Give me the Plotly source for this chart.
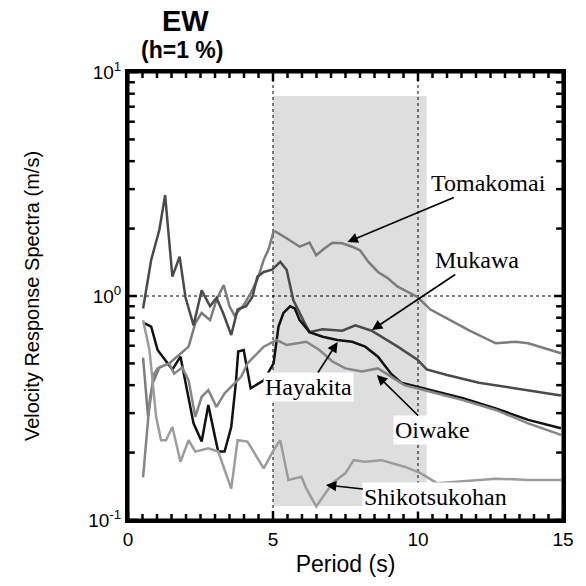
import math
import plotly.graph_objects as go

# ---------------- data ----------------
period_tomakomai = [0.52, 0.69, 0.86, 1.08, 1.42, 1.81, 2.09, 2.32, 2.54, 2.83, 3.05, 3.30, 3.50, 3.67,
                    3.99, 4.23, 4.46, 4.68, 4.85, 5.02, 5.08, 5.47, 5.92, 6.26, 6.49, 6.77, 7.05, 7.39,
                    7.73, 8.00, 8.29, 8.62, 8.96, 9.30, 9.98, 10.43, 11.10, 11.78, 12.68, 13.36, 13.80, 14.93]
vel_tomakomai = [0.53, 0.29, 0.41, 0.48, 0.50, 0.555, 0.594, 0.755, 0.84, 0.78, 0.96, 1.12, 0.90, 0.82,
                 0.91, 1.03, 1.18, 1.45, 1.62, 1.94, 1.94, 1.81, 1.66, 1.73, 1.52, 1.63, 1.73, 1.72,
                 1.66, 1.60, 1.42, 1.28, 1.20, 1.10, 0.99, 0.87, 0.78, 0.70, 0.615, 0.625, 0.615, 0.555]

period_mukawa = [0.52, 0.80, 1.08, 1.28, 1.53, 1.78, 1.98, 2.26, 2.54, 2.83, 3.05, 3.28, 3.56, 3.78,
                 4.07, 4.29, 4.46, 4.68, 4.97, 5.25, 5.47, 5.70, 6.04, 6.26, 6.71, 7.39, 7.84, 8.40,
                 9.30, 9.98, 10.30, 11.00, 12.10, 13.20, 14.93]
vel_mukawa = [0.88, 1.45, 1.97, 2.82, 1.22, 1.50, 0.99, 0.74, 1.06, 0.90, 0.98, 0.84, 0.67, 0.87,
              0.90, 0.99, 1.22, 1.28, 1.31, 1.42, 1.31, 0.96, 0.78, 0.69, 0.71, 0.70, 0.74, 0.70,
              0.594, 0.52, 0.47, 0.444, 0.41, 0.39, 0.36]

period_hayakita = [0.52, 0.80, 1.02, 1.53, 1.81, 2.26, 2.54, 2.77, 3.00, 3.11, 3.33, 3.56, 3.72, 3.80,
                   3.99, 4.23, 4.68, 5.02, 5.19, 5.36, 5.59, 5.75, 5.92, 6.26, 6.71, 7.22, 7.73, 8.18,
                   8.62, 9.07, 9.42, 10.43, 11.55, 12.68, 13.80, 14.93]
vel_hayakita = [0.76, 0.73, 0.574, 0.47, 0.536, 0.27, 0.224, 0.326, 0.235, 0.202, 0.202, 0.26, 0.41, 0.565,
                0.574, 0.387, 0.42, 0.50, 0.73, 0.84, 0.90, 0.88, 0.78, 0.69, 0.658, 0.636, 0.625, 0.594,
                0.536, 0.45, 0.41, 0.38, 0.35, 0.315, 0.28, 0.257]

period_oiwake = [0.52, 0.75, 0.90, 1.02, 1.42, 1.59, 1.87, 2.09, 2.32, 2.54, 2.77, 3.05, 3.33, 3.61,
                 3.90, 4.12, 4.35, 4.68, 5.02, 5.14, 5.47, 6.15, 6.60, 7.05, 7.50, 8.06, 8.62, 9.07,
                 9.53, 10.43, 11.55, 12.68, 13.80, 14.93]
vel_oiwake = [0.155, 0.343, 0.45, 0.475, 0.50, 0.45, 0.48, 0.42, 0.289, 0.355, 0.38, 0.32, 0.368, 0.40,
              0.436, 0.50, 0.536, 0.594, 0.625, 0.636, 0.604, 0.625, 0.574, 0.51, 0.475, 0.46, 0.475, 0.436,
              0.40, 0.374, 0.343, 0.31, 0.27, 0.24]

period_shikotsu = [0.52, 0.74, 0.97, 1.14, 1.31, 1.53, 1.81, 2.09, 2.32, 2.77, 3.11, 3.56, 3.78, 4.12,
                   4.68, 5.02, 5.25, 5.53, 5.98, 6.15, 6.49, 7.05, 7.50, 7.78, 8.18, 8.74, 9.53, 10.09,
                   10.65, 11.55, 12.68, 13.80, 14.93]
vel_shikotsu = [0.78, 0.574, 0.289, 0.227, 0.227, 0.26, 0.182, 0.227, 0.202, 0.209, 0.202, 0.138, 0.227, 0.224,
                0.17, 0.205, 0.227, 0.151, 0.156, 0.138, 0.115, 0.146, 0.162, 0.185, 0.182, 0.185, 0.173, 0.162,
                0.146, 0.149, 0.153, 0.151, 0.151]

x_major = [0, 5, 10, 15]
x_minor_step = 0.5
y_tickvals = [0.1, 1, 10]
y_ticktext = ["10<sup>-1</sup>", "10<sup>0</sup>", "10<sup>1</sup>"]
y_minor = [0.2, 0.3, 0.4, 0.5, 0.6, 0.7, 0.8, 0.9, 2, 3, 4, 5, 6, 7, 8, 9]
band_period = [5.0, 10.3]
ref_periods = [5, 10]
X_RANGE = [0, 15]
Y_LOG_RANGE = [-1, 1]

series = [
    ("Tomakomai", period_tomakomai, vel_tomakomai, "#7c7c7c"),
    ("Mukawa", period_mukawa, vel_mukawa, "#4a4a4a"),
    ("Hayakita", period_hayakita, vel_hayakita, "#111111"),
    ("Oiwake", period_oiwake, vel_oiwake, "#858585"),
    ("Shikotsukohan", period_shikotsu, vel_shikotsu, "#9c9c9c"),
]

# ---------------- layout geometry ----------------
W = H = 586
ML, MR, MT, MB = 128, 14, 72, 66
PW, PH = W - ML - MR, H - MT - MB


def pxx(xp):
    return (xp - ML) / PW


def pxy(yp):
    return (H - MB - yp) / PH


def yfrac(v):
    return (math.log10(v) - Y_LOG_RANGE[0]) / (Y_LOG_RANGE[1] - Y_LOG_RANGE[0])


fig = go.Figure()

fig.add_shape(type="rect", xref="x", yref="paper",
              x0=band_period[0], x1=band_period[1], y0=pxy(506), y1=pxy(96),
              fillcolor="#dedede", line_width=0, layer="below")
for rp in ref_periods:
    fig.add_shape(type="line", xref="x", yref="paper", x0=rp, x1=rp, y0=0, y1=1,
                  line=dict(color="black", width=1, dash="dot"), layer="below")
fig.add_shape(type="line", xref="paper", yref="paper", x0=0, x1=1, y0=yfrac(1), y1=yfrac(1),
              line=dict(color="black", width=1, dash="dot"), layer="below")

for name, xs, ys, col in series:
    fig.add_trace(go.Scatter(x=xs, y=ys, mode="lines", name=name,
                             line=dict(color=col, width=2.5), showlegend=False))

# ---- frame and inside tick marks on all four sides ----
tick_style = dict(color="black", width=2.5)
n_minor = int(round((X_RANGE[1] - X_RANGE[0]) / x_minor_step))
for i in range(n_minor + 1):
    xv = X_RANGE[0] + i * x_minor_step
    ln = 9 if xv in x_major else 6
    h = ln / PH
    fig.add_shape(type="line", xref="x", yref="paper", x0=xv, x1=xv, y0=0, y1=h,
                  line=tick_style, layer="above")
    fig.add_shape(type="line", xref="x", yref="paper", x0=xv, x1=xv, y0=1, y1=1 - h,
                  line=tick_style, layer="above")
for v in y_tickvals + y_minor:
    ln = 9 if v in y_tickvals else 7
    w = ln / PW
    f = yfrac(v)
    fig.add_shape(type="line", xref="paper", yref="paper", x0=0, x1=w, y0=f, y1=f,
                  line=tick_style, layer="above")
    fig.add_shape(type="line", xref="paper", yref="paper", x0=1, x1=1 - w, y0=f, y1=f,
                  line=tick_style, layer="above")
fig.add_shape(type="rect", xref="paper", yref="paper", x0=0, x1=1, y0=0, y1=1,
              line=dict(color="black", width=3), fillcolor="rgba(0,0,0,0)", layer="above")

serif = "Liberation Serif"
sans = "Liberation Sans"

# station labels: (text, arrow head px, arrow head py, label centre px, label centre py)
labels = [
    ("Tomakomai", 352, 242, 493, 183),
    ("Mukawa", 377, 330, 482, 260),
    ("Hayakita", 342, 342, 313, 387),
    ("Oiwake", 382, 375, 438, 430),
    ("Shikotsukohan", 330, 485, 440, 497),
]
for txt, hx, hy, cx, cy in labels:
    fig.add_annotation(text=txt, xref="paper", yref="paper", x=pxx(hx), y=pxy(hy),
                       ax=cx - hx, ay=cy - hy, axref="pixel", ayref="pixel",
                       showarrow=True, arrowhead=2, arrowsize=1.3, arrowwidth=1.6,
                       arrowcolor="black",
                       font=dict(family=serif, size=24, color="black"),
                       bgcolor="white", borderpad=1)

# title lines
fig.add_annotation(text="<b>EW</b>", xref="paper", yref="paper", x=pxx(187), y=pxy(21),
                   xanchor="center", yanchor="middle", showarrow=False,
                   font=dict(family=sans, size=29, color="black"))
fig.add_annotation(text="<b>(h=1 %)</b>", xref="paper", yref="paper", x=pxx(183), y=pxy(50),
                   xanchor="center", yanchor="middle", showarrow=False,
                   font=dict(family=sans, size=23, color="black"))

axis_common = dict(showline=True, linecolor="black", linewidth=3, mirror=True,
                   ticks="", showgrid=False, zeroline=False,
                   tickfont=dict(family=sans, size=19, color="black"))

fig.update_xaxes(range=X_RANGE, tickmode="array", tickvals=x_major,
                 title=dict(text="Period (s)", font=dict(family=sans, size=23, color="black"),
                            standoff=8),
                 **axis_common)
fig.update_yaxes(type="log", range=Y_LOG_RANGE, tickmode="array", tickvals=y_tickvals,
                 ticktext=y_ticktext,
                 title=dict(text="Velocity Response Spectra (m/s)",
                            font=dict(family=sans, size=20, color="black"), standoff=44),
                 **axis_common)

fig.update_layout(width=W, height=H, autosize=False,
                  margin=dict(l=ML, r=MR, t=MT, b=MB),
                  paper_bgcolor="white", plot_bgcolor="white", showlegend=False)

fig.write_html("out.html")
